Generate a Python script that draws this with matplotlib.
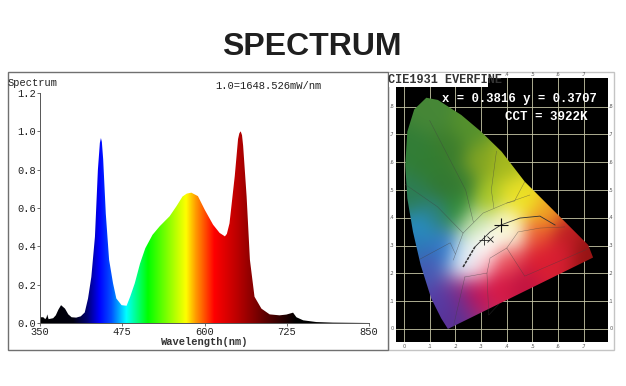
import numpy as np
import matplotlib
matplotlib.use('Agg')
import matplotlib.pyplot as plt
from matplotlib.colors import LinearSegmentedColormap
from matplotlib.patches import Polygon, Rectangle

W, H = 626, 386

# spectrum
wavelength = [350, 355, 358, 360, 361, 363, 370, 374, 378, 382, 388, 393, 398, 405, 412, 418, 423, 428,
              433.5, 438, 441, 442.6, 444, 446, 450, 455, 461, 466, 474, 481.6, 487, 494, 502, 510, 521, 532,
              547, 557.5, 566.6, 573, 580, 590, 600.5, 613, 623, 631, 634, 638, 646, 651, 653, 655, 657, 658.7,
              664, 669, 676, 686.5, 699, 714, 724.5, 734.6, 739.7, 750, 770, 795, 850]
power = [0.03, 0.03, 0.02, 0.03, 0.045, 0.02, 0.025, 0.04, 0.07, 0.093, 0.075, 0.045, 0.03, 0.028, 0.035,
         0.055, 0.128, 0.24, 0.45, 0.80, 0.94, 0.965, 0.945, 0.855, 0.57, 0.33, 0.207, 0.128, 0.093, 0.09, 0.137,
         0.207, 0.31, 0.39, 0.46, 0.505, 0.557, 0.61, 0.66, 0.675, 0.68, 0.662, 0.59, 0.513, 0.47, 0.452,
         0.465, 0.52, 0.767, 0.96, 0.99, 1.0, 0.98, 0.925, 0.66, 0.33, 0.137, 0.075, 0.045, 0.04, 0.044, 0.054,
         0.03, 0.014, 0.005, 0.002, 0.0]
x_ticks = [350, 475, 600, 725, 850]
y_ticks = [0.0, 0.2, 0.4, 0.6, 0.8, 1.0, 1.2]

# colour along the wavelength axis
band_nm = [350, 400, 421, 440, 458, 481, 514, 572, 587, 615, 650, 694, 740, 850]
band_col = ['#000000', '#000010', '#000070', '#0000ff', '#0050ff', '#00ffff', '#00ff00', '#ffff00',
            '#ff9900', '#ff0000', '#bb0000', '#5a0000', '#000000', '#000000']

# edge of the CIE 1931 horseshoe
locus_x = [0.171, 0.145, 0.106, 0.065, 0.035, 0.013, 0.005, 0.013, 0.04, 0.087, 0.132, 0.223, 0.30, 0.38,
           0.47, 0.587, 0.717, 0.736]
locus_y = [0.0, 0.038, 0.11, 0.23, 0.35, 0.47, 0.59, 0.71, 0.79, 0.832, 0.824, 0.77, 0.71, 0.638, 0.53,
           0.422, 0.302, 0.257]

# colours seen at spots in the diagram
spot_x = [0.10, 0.10, 0.18, 0.158, 0.30, 0.38, 0.335, 0.463, 0.42, 0.55, 0.53, 0.53, 0.60, 0.72, 0.362, 0.268,
          0.17, 0.145, 0.08, 0.167, 0.067, 0.12, 0.206, 0.308, 0.41, 0.257, 0.218, 0.40, 0.27, 0.40, 0.307,
          0.03, 0.03, 0.25, 0.22, 0.46, 0.62, 0.22, 0.05, 0.33]
spot_y = [0.60, 0.78, 0.65, 0.506, 0.60, 0.59, 0.475, 0.453, 0.48, 0.40, 0.345, 0.248, 0.28, 0.27, 0.165, 0.14,
          0.05, 0.086, 0.23, 0.284, 0.374, 0.42, 0.428, 0.296, 0.345, 0.223, 0.273, 0.39, 0.38, 0.237, 0.223,
          0.65, 0.48, 0.72, 0.52, 0.17, 0.34, 0.12, 0.28, 0.31]
spot_rgb = [(50, 125, 50), (70, 135, 55), (60, 125, 45), (50, 120, 50), (130, 165, 35), (165, 185, 30),
            (170, 200, 40), (240, 225, 35), (232, 225, 40), (240, 160, 35), (235, 90, 50), (220, 30, 50),
            (215, 30, 50), (150, 20, 20), (215, 25, 70), (190, 20, 90), (90, 50, 150), (85, 60, 165),
            (70, 90, 180), (50, 120, 200), (40, 140, 190), (45, 130, 125), (50, 140, 60), (252, 252, 250),
            (250, 250, 225), (235, 240, 250), (215, 235, 245), (248, 245, 190), (195, 225, 170),
            (235, 80, 90), (250, 190, 200),
            (50, 125, 55), (45, 125, 85), (85, 145, 45), (55, 125, 50), (195, 20, 65), (190, 30, 35),
            (120, 45, 140), (45, 120, 185), (252, 252, 245)]

cie_ticks = [0, 0.1, 0.2, 0.3, 0.4, 0.5, 0.6, 0.7]
cie_yticks = [0, 0.1, 0.2, 0.3, 0.4, 0.5, 0.6, 0.7, 0.8]
planck_x = [0.276, 0.335, 0.377, 0.451, 0.529, 0.588]
planck_y = [0.295, 0.349, 0.374, 0.399, 0.406, 0.374]
planck_thick_x = [0.23, 0.276]
planck_thick_y = [0.223, 0.295]
# lines that split the colour regions
region_lines = [
    ([0.237, 0.323, 0.335, 0.40, 0.444, 0.529, 0.626], [0.187, 0.201, 0.255, 0.291, 0.349, 0.363, 0.367]),
    ([0.192, 0.23, 0.308, 0.40, 0.49], [0.248, 0.345, 0.417, 0.453, 0.482]),
    ([0.005, 0.13, 0.23], [0.52, 0.44, 0.345]),
    ([0.10, 0.24, 0.27], [0.75, 0.50, 0.385]),
    ([0.36, 0.34, 0.35], [0.64, 0.50, 0.435]),
    ([0.47, 0.43, 0.40], [0.53, 0.46, 0.453]),
    ([0.06, 0.18, 0.20], [0.25, 0.31, 0.27]),
    ([0.237, 0.19], [0.187, 0.0]),
    ([0.323, 0.33, 0.37], [0.201, 0.05, 0.09]),
    ([0.40, 0.47, 0.72], [0.291, 0.19, 0.29]),
]

mono = ['Liberation Mono', 'DejaVu Sans Mono']

fig = plt.figure(figsize=(W / 100, H / 100), dpi=100, facecolor='white')


def px_axes(x0, y0, x1, y1):
    return fig.add_axes([x0 / W, 1 - y1 / H, (x1 - x0) / W, (y1 - y0) / H])


bg = fig.add_axes([0, 0, 1, 1])
bg.set_xlim(0, W)
bg.set_ylim(H, 0)
bg.axis('off')
bg.add_patch(Rectangle((388, 72), 226, 278, fc='white', ec='#c4c4c4', lw=1.0))
bg.add_patch(Rectangle((8, 72), 380, 278, fc='white', ec='#707070', lw=1.0))
bg.text(312, 47, 'SPECTRUM', ha='center', va='center', fontsize=23, fontweight='bold', color='#1f1f1f',
        family=['Liberation Sans'])

# left panel
ax = px_axes(40, 93, 369, 323)
ax.set_xlim(350, 850)
ax.set_ylim(0, 1.2)
pos = [(n - 350) / 500 for n in band_nm]
cmap = LinearSegmentedColormap.from_list('band', list(zip(pos, band_col)), N=512)
img = ax.imshow(np.linspace(0, 1, 512).reshape(1, -1), cmap=cmap, extent=[350, 850, 0, 1.2], aspect='auto')
clip = Polygon(list(zip(wavelength, power)) + [(850, 0), (350, 0)], transform=ax.transData, fc='none', ec='none')
ax.add_patch(clip)
img.set_clip_path(clip)
for s in ['top', 'right']:
    ax.spines[s].set_visible(False)
for s in ['left', 'bottom']:
    ax.spines[s].set_color('#555555')
    ax.spines[s].set_linewidth(0.7)
ax.set_xticks(x_ticks)
ax.set_yticks(y_ticks)
ax.set_xticklabels([str(v) for v in x_ticks], family=mono, fontsize=7.5, color='#222222')
ax.set_yticklabels(['%.1f' % v for v in y_ticks], family=mono, fontsize=7.5, color='#222222')
ax.tick_params(length=2, width=0.6, color='#555555', pad=1)
ax.set_xlabel('Wavelength(nm)', family=mono, fontsize=7.5, fontweight='bold', color='#333333', labelpad=0)
bg.text(8, 83, 'Spectrum', family=mono, fontsize=7.5, color='#222222', va='center')
bg.text(215, 86, '1.0=1648.526mW/nm', family=mono, fontsize=7.6, color='#222222', va='center')

# right panel
cx = px_axes(396, 78, 608, 342)
xlim = (-0.031, 0.794)
ylim = (-0.047, 0.903)
cx.set_xlim(*xlim)
cx.set_ylim(*ylim)
cx.set_facecolor('black')
for s in cx.spines.values():
    s.set_visible(False)
cx.set_xticks([])
cx.set_yticks([])


def short(v):
    return '0' if v == 0 else ('%.1f' % v)[1:]


for v in cie_ticks:
    cx.axvline(v, color='#c8c8a8', lw=0.6, zorder=1)
    bg.text(404 + v * 257, 346, short(v), fontsize=3.5, color='#555555', ha='center', va='center')
    if v >= 0.4:
        bg.text(404 + v * 257, 75, short(v), fontsize=3.5, color='#555555', ha='center', va='center')
for v in cie_yticks:
    cx.axhline(v, color='#c8c8a8', lw=0.6, zorder=1)
    bg.text(392, 329 - v * 278, short(v), fontsize=3.5, color='#555555', ha='center', va='center')
    bg.text(611, 329 - v * 278, short(v), fontsize=3.5, color='#555555', ha='center', va='center')

gx, gy = np.meshgrid(np.linspace(xlim[0], xlim[1], 300), np.linspace(ylim[0], ylim[1], 340))
wsum = np.zeros(gx.shape)
rgb = np.zeros(gx.shape + (3,))
for sx, sy, col in zip(spot_x, spot_y, spot_rgb):
    w = 1 / (((gx - sx) ** 2 + (gy - sy) ** 2) ** 3 + 1e-10)
    wsum += w
    rgb += w[..., None] * np.array(col) / 255
rgb = rgb / wsum[..., None]

# soften the colour patches
k = np.exp(-np.arange(-30, 31) ** 2 / (2 * 11.0 ** 2))
k = k / k.sum()
pad = np.pad(rgb, ((30, 30), (30, 30), (0, 0)), mode='edge')
for c in range(3):
    pad[..., c] = np.apply_along_axis(lambda r: np.convolve(r, k, mode='same'), 0, pad[..., c])
    pad[..., c] = np.apply_along_axis(lambda r: np.convolve(r, k, mode='same'), 1, pad[..., c])
rgb = pad[30:-30, 30:-30]

cie = cx.imshow(rgb, origin='lower', extent=[xlim[0], xlim[1], ylim[0], ylim[1]], aspect='auto', zorder=2,
                interpolation='bilinear')
shoe = Polygon(list(zip(locus_x, locus_y)), closed=True, transform=cx.transData, fc='none', ec='none')
cx.add_patch(shoe)
cie.set_clip_path(shoe)

for lx, ly in region_lines:
    cx.plot(lx, ly, color='#404040', lw=0.35, alpha=0.6, zorder=3)
cx.plot(planck_x, planck_y, color='#303030', lw=0.6, zorder=4)
cx.plot(planck_thick_x, planck_thick_y, color='#303030', lw=1.1, ls=(0, (2, 0.7)), zorder=4)
cx.plot([0.377], [0.374], marker='+', ms=10, mew=0.8, color='#111111', zorder=5)
cx.plot([0.31], [0.32], marker='+', ms=7, mew=0.6, color='#222222', zorder=5)
cx.plot([0.335], [0.325], marker='x', ms=4, mew=0.6, color='#222222', zorder=5)

cx.text(0.148, 0.828, 'x = 0.3816 y = 0.3707', family=mono, fontsize=8.8, fontweight='bold', color='white', va='center', zorder=6)
cx.text(0.393, 0.762, 'CCT = 3922K', family=mono, fontsize=9, fontweight='bold', color='white', va='center', zorder=6)

# strip with the heading laid over the top of the diagram
fg = fig.add_axes([0, 0, 1, 1], zorder=5)
fg.set_xlim(0, W)
fg.set_ylim(H, 0)
fg.axis('off')
fg.patch.set_alpha(0)
fg.add_patch(Rectangle((388.5, 73), 99, 14, fc='white', ec='none'))
fg.text(388, 80, 'CIE1931 EVERFINE', family=mono, fontsize=8.6, fontweight='bold', color='#333333', va='center')

fig.savefig('out.png', dpi=100)
